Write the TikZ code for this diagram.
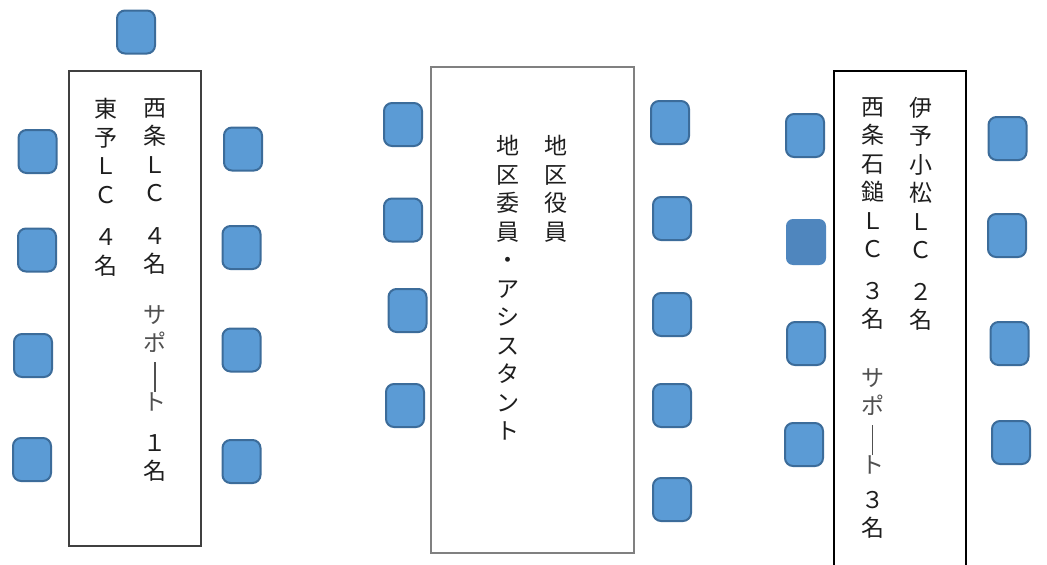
\documentclass[tikz,border=0pt]{standalone}
\usepackage{fontspec}
\usepackage{graphicx}
\newfontfamily\cjk{Noto Sans CJK JP}
\definecolor{chairfill}{HTML}{5B9BD5}
\definecolor{chairline}{HTML}{3C6C9A}
\definecolor{chairdark}{HTML}{4F86BE}
\definecolor{txt}{HTML}{1E1E1E}
\definecolor{txtgray}{HTML}{505050}
\newcommand\vbarline{\textcolor{txtgray}{\rule[-12pt]{1.2pt}{30pt}}}
\begin{document}
\begin{tikzpicture}[x=1pt,y=-1pt,
  chair/.style={draw=chairline, fill=chairfill, line width=2pt, rounded corners=8pt,
    minimum width=38pt, minimum height=43pt, inner sep=0pt},
  chairflat/.style={fill=chairdark, rounded corners=7pt,
    minimum width=40pt, minimum height=46pt, inner sep=0pt},
  vcol/.style={anchor=north, align=center, inner sep=0pt, text=txt,
    font=\cjk\fontsize{23}{28.5}\selectfont},
  tableA/.style={draw=black!75, line width=2.2pt},
  tableB/.style={draw=black!50, line width=1.4pt},
  tableC/.style={draw=black, line width=1.8pt}]
\useasboundingbox (0,0) rectangle (1047,565);
\fill[white] (0,0) rectangle (1047,565);

% ---- left table ----
\draw[tableA] (69,71) rectangle (201,546);
\node[vcol] (aR) at (155,98) {西\\条\\Ｌ\\Ｃ\\[14pt]４\\名\\[22pt]\textcolor{txtgray}{サ}\\\textcolor{txtgray}{ポ}\\\vbarline\\\textcolor{txtgray}{ト}\\[12pt]１\\名};
\node[vcol] (aL) at (106,98) {東\\予\\Ｌ\\Ｃ\\[14pt]４\\名};
\node[chair] (at1) at (136,32) {};
\node[chair] (al1) at (37.5,151.5) {};
\node[chair] (al2) at (37,250) {};
\node[chair] (al3) at (33,355.5) {};
\node[chair] (al4) at (32,459.5) {};
\node[chair] (ar1) at (243,149) {};
\node[chair] (ar2) at (241.5,247.5) {};
\node[chair] (ar3) at (241.5,350) {};
\node[chair] (ar4) at (241.5,461.5) {};

% ---- middle table ----
\draw[tableB] (431,67) rectangle (634,553);
\node[vcol] (bR) at (555.5,135) {地\\区\\役\\員};
\node[vcol] (bL) at (507.5,135) {地\\区\\委\\員\\・\\ア\\シ\\ス\\タ\\ン\\ト};
\node[chair] (bl1) at (403,124.5) {};
\node[chair] (bl2) at (403,220) {};
\node[chair] (bl3) at (407.5,310.5) {};
\node[chair] (bl4) at (405,405.5) {};
\node[chair] (br1) at (670,122.5) {};
\node[chair] (br2) at (672,218.5) {};
\node[chair] (br3) at (672,314.5) {};
\node[chair] (br4) at (672,405.5) {};
\node[chair] (br5) at (672,499.5) {};

% ---- right table ----
\draw[tableC] (834,575) -- (834,71) -- (966,71) -- (966,575);
\node[vcol] (cR) at (920.5,97) {伊\\予\\小\\松\\Ｌ\\Ｃ\\[13pt]２\\名};
\node[vcol] (cL) at (872.5,97) {西\\条\\石\\鎚\\Ｌ\\Ｃ\\[13pt]３\\名\\[30pt]\textcolor{txtgray}{サ}\\\textcolor{txtgray}{ポ}\\\vbarline\\\textcolor{txtgray}{ト}\\[6pt]３\\名};
\node[chair] (cl1) at (805,135.5) {};
\node[chairflat] (cl2) at (806,242) {};
\node[chair] (cl3) at (806,343.5) {};
\node[chair] (cl4) at (804,444.5) {};
\node[chair] (cr1) at (1007.5,138.5) {};
\node[chair] (cr2) at (1007,235.5) {};
\node[chair] (cr3) at (1009.5,343.5) {};
\node[chair] (cr4) at (1011,442.5) {};
\end{tikzpicture}
\end{document}
